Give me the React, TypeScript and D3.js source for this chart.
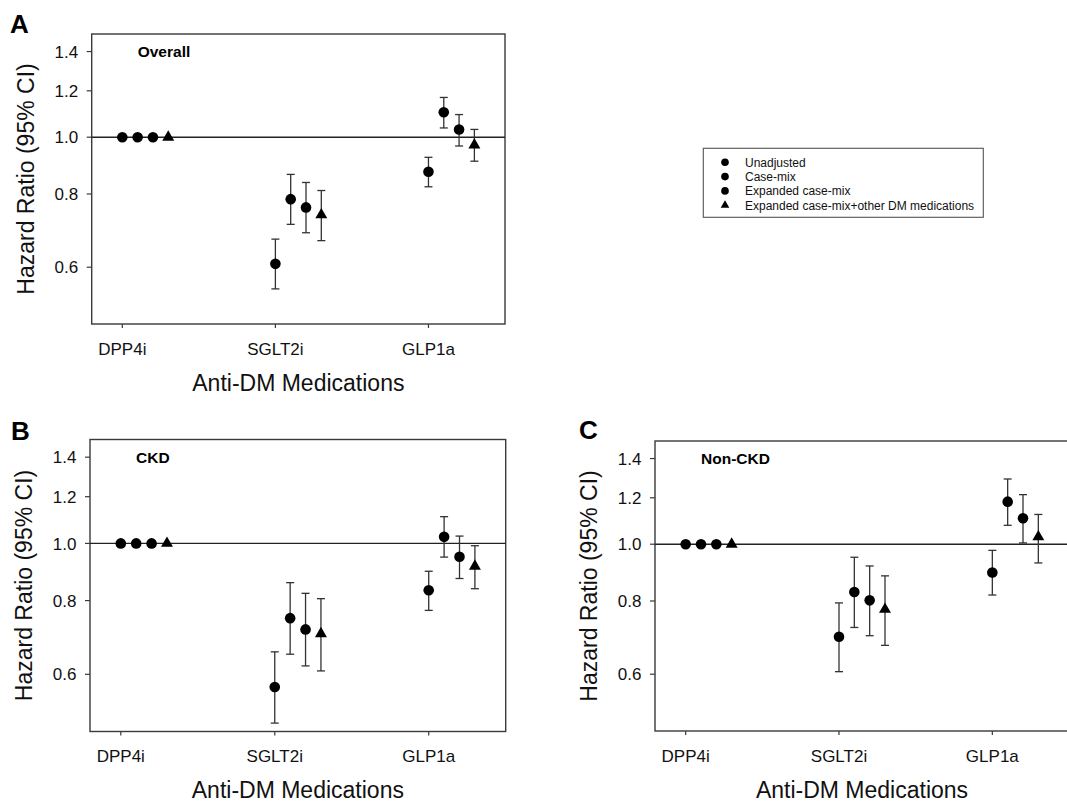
import React from "react";
import * as d3 from "d3";

const categories = ["DPP4i", "SGLT2i", "GLP1a"];
const seriesNames = [
  "Unadjusted",
  "Case-mix",
  "Expanded case-mix",
  "Expanded case-mix+other DM medications",
];
const seriesShapes = ["circle", "circle", "circle", "triangle"];
const yTicks = [0.6, 0.8, 1.0, 1.2, 1.4];
const yTickLabels = ["0.6", "0.8", "1.0", "1.2", "1.4"];

// Panel A – Overall (rows: series, cols: categories)
const overallEst = [
  [1.0, 0.608, 0.873],
  [1.0, 0.784, 1.103],
  [1.0, 0.759, 1.031],
  [1.0, 0.737, 0.97],
];
const overallLo = [
  [null, 0.551, 0.823],
  [null, 0.71, 1.037],
  [null, 0.687, 0.966],
  [null, 0.666, 0.91],
];
const overallHi = [
  [null, 0.67, 0.924],
  [null, 0.864, 1.169],
  [null, 0.837, 1.093],
  [null, 0.811, 1.031],
];

// Panel B – CKD
const ckdEst = [
  [1.0, 0.571, 0.833],
  [1.0, 0.747, 1.026],
  [1.0, 0.715, 0.949],
  [1.0, 0.703, 0.915],
];
const ckdLo = [
  [null, 0.496, 0.77],
  [null, 0.649, 0.948],
  [null, 0.62, 0.872],
  [null, 0.608, 0.838],
];
const ckdHi = [
  [null, 0.655, 0.897],
  [null, 0.858, 1.11],
  [null, 0.823, 1.029],
  [null, 0.806, 0.991],
];

// Panel C – Non-CKD
const nonCkdEst = [
  [1.0, 0.695, 0.895],
  [1.0, 0.829, 1.182],
  [1.0, 0.802, 1.107],
  [1.0, 0.774, 1.029],
];
const nonCkdLo = [
  [null, 0.606, 0.819],
  [null, 0.721, 1.077],
  [null, 0.698, 1.005],
  [null, 0.672, 0.929],
];
const nonCkdHi = [
  [null, 0.794, 0.976],
  [null, 0.95, 1.292],
  [null, 0.918, 1.215],
  [null, 0.883, 1.124],
];

const FONT = "'Liberation Sans', Arial, Helvetica, sans-serif";
const AXIS = "#3a3a3a";

type PanelProps = {
  left: number;
  top: number;
  width: number;
  height: number;
  est: number[][];
  lo: (number | null)[][];
  hi: (number | null)[][];
  title: string;
  letter: string;
  letterX: number;
  letterY: number;
};

function Marker({ shape, x, y, scale = 1 }: { shape: string; x: number; y: number; scale?: number }) {
  if (shape === "triangle") {
    const p = d3.symbol(d3.symbolTriangle, 62 * scale * scale)();
    return <path d={p || ""} transform={`translate(${x},${y})`} fill="#000" />;
  }
  return <circle cx={x} cy={y} r={5.3 * scale} fill="#000" />;
}

function Panel(props: PanelProps) {
  const { left, top, width, height, est, lo, hi, title, letter, letterX, letterY } = props;
  const x = d3.scaleLinear().domain([0.8, 3.5]).range([left, left + width]);
  const y = d3.scaleLog().domain([0.48, 1.5]).range([top + height, top]);
  const off = 0.1;
  return (
    <g>
      <text x={letterX} y={letterY} fontFamily={FONT} fontWeight="bold" fontSize={26} fill="#000">
        {letter}
      </text>
      {/* frame */}
      <rect x={left} y={top} width={width} height={height} fill="none" stroke={AXIS} strokeWidth={1.4} />
      {/* reference line */}
      <line x1={left} x2={left + width} y1={y(1)} y2={y(1)} stroke="#222" strokeWidth={1.4} />
      {/* y ticks */}
      {yTicks.map((t, i) => (
        <g key={t}>
          <line x1={left - 5} x2={left} y1={y(t)} y2={y(t)} stroke={AXIS} strokeWidth={1.2} />
          <text
            x={left - 13.5}
            y={y(t)}
            dy="0.36em"
            textAnchor="end"
            fontFamily={FONT}
            fontSize={17}
            fill="#111"
          >
            {yTickLabels[i]}
          </text>
        </g>
      ))}
      {/* x ticks */}
      {categories.map((c, i) => (
        <g key={c}>
          <line x1={x(i + 1)} x2={x(i + 1)} y1={top + height} y2={top + height + 4} stroke={AXIS} strokeWidth={1.2} />
          <text x={x(i + 1)} y={top + height + 30.5} textAnchor="middle" fontFamily={FONT} fontSize={17} fill="#111">
            {c}
          </text>
        </g>
      ))}
      {/* axis titles */}
      <text
        x={left + width / 2}
        y={top + height + 66.5}
        textAnchor="middle"
        fontFamily={FONT}
        fontSize={23}
        fill="#111"
      >
        Anti-DM Medications
      </text>
      <text
        transform={`translate(${left - 58},${top + height / 2}) rotate(-90)`}
        textAnchor="middle"
        fontFamily={FONT}
        fontSize={23}
        fill="#111"
      >
        Hazard Ratio (95% CI)
      </text>
      <text x={left + 46} y={top + 23.3} fontFamily={FONT} fontWeight="bold" fontSize={15.5} fill="#000">
        {title}
      </text>
      {/* error bars and markers */}
      {est.map((row, s) =>
        row.map((v, c) => {
          const cx = x(c + 1 + s * off);
          const l = lo[s][c];
          const h = hi[s][c];
          return (
            <g key={`${s}-${c}`}>
              {l !== null && h !== null && (
                <g stroke="#333" strokeWidth={1.3}>
                  <line x1={cx} x2={cx} y1={y(l)} y2={y(h)} />
                  <line x1={cx - 4} x2={cx + 4} y1={y(l)} y2={y(l)} />
                  <line x1={cx - 4} x2={cx + 4} y1={y(h)} y2={y(h)} />
                </g>
              )}
              <Marker shape={seriesShapes[s]} x={cx} y={y(v)} />
            </g>
          );
        })
      )}
    </g>
  );
}

function Legend({ x0, y0 }: { x0: number; y0: number }) {
  return (
    <g>
      <rect x={x0} y={y0} width={280} height={69} fill="#fff" stroke="#555" strokeWidth={1.1} />
      {seriesNames.map((n, i) => (
        <g key={n}>
          <Marker shape={seriesShapes[i]} x={x0 + 21.7} y={y0 + 14 + i * 14.3} scale={0.72} />
          <text x={x0 + 41.7} y={y0 + 14 + i * 14.3} dy="0.36em" fontFamily={FONT} fontSize={12} fill="#111">
            {n}
          </text>
        </g>
      ))}
    </g>
  );
}

export default function App() {
  return (
    <svg
      width={1067}
      height={803}
      style={{ position: "absolute", left: 0, top: 0, display: "block", background: "#fff" }}
    >
      <rect x={0} y={0} width={1067} height={803} fill="#fff" />
      <Panel
        left={91.7}
        top={34}
        width={413.3}
        height={290}
        est={overallEst}
        lo={overallLo}
        hi={overallHi}
        title="Overall"
        letter="A"
        letterX={10}
        letterY={33}
      />
      <Panel
        left={90}
        top={439.5}
        width={415.7}
        height={292}
        est={ckdEst}
        lo={ckdLo}
        hi={ckdHi}
        title="CKD"
        letter="B"
        letterX={11}
        letterY={440}
      />
      <Panel
        left={655}
        top={441}
        width={414}
        height={290}
        est={nonCkdEst}
        lo={nonCkdLo}
        hi={nonCkdHi}
        title="Non-CKD"
        letter="C"
        letterX={579}
        letterY={439}
      />
      <Legend x0={703.3} y0={148.3} />
    </svg>
  );
}
